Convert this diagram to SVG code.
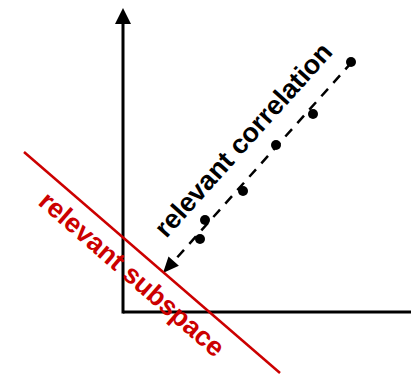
<svg xmlns="http://www.w3.org/2000/svg" width="411" height="375" viewBox="0 0 411 375">
<style>
.ax{stroke:#000;stroke-width:3;fill:none}
.dash{stroke:#000;stroke-width:2.5;fill:none;stroke-dasharray:10 8}
.dot{fill:#000}
.lbl{font-family:"Liberation Sans",Arial,sans-serif;font-weight:bold;font-size:27px}
</style>
<g id="axes">
<line class="ax" x1="123" y1="312" x2="411" y2="312"/>
<line class="ax" x1="123" y1="313.5" x2="123" y2="22"/>
<polygon points="123,8 115,24 131,24" fill="#000"/>
</g>
<g id="connectors">
<line class="dash" x1="352" y1="62" x2="174" y2="261"/>
<polygon points="163,273 178.9,265.8 168.5,256.4" fill="#000"/>
</g>
<g id="points">
<circle class="dot" cx="351" cy="62" r="5"/>
<circle class="dot" cx="313" cy="114" r="5"/>
<circle class="dot" cx="276" cy="145" r="5"/>
<circle class="dot" cx="243" cy="191" r="5"/>
<circle class="dot" cx="205" cy="220" r="5"/>
<circle class="dot" cx="200" cy="239" r="5"/>
</g>
<g id="subspace">
<line x1="24" y1="152" x2="280" y2="373" stroke="#CC0000" stroke-width="2.5"/>
<text class="lbl" fill="#CC0000" text-anchor="middle" transform="translate(126,281) rotate(41)">relevant subspace</text>
</g>
<g id="correlation">
<text class="lbl" fill="#000" text-anchor="middle" transform="translate(250,146) rotate(-48)">relevant correlation</text>
</g>
</svg>
